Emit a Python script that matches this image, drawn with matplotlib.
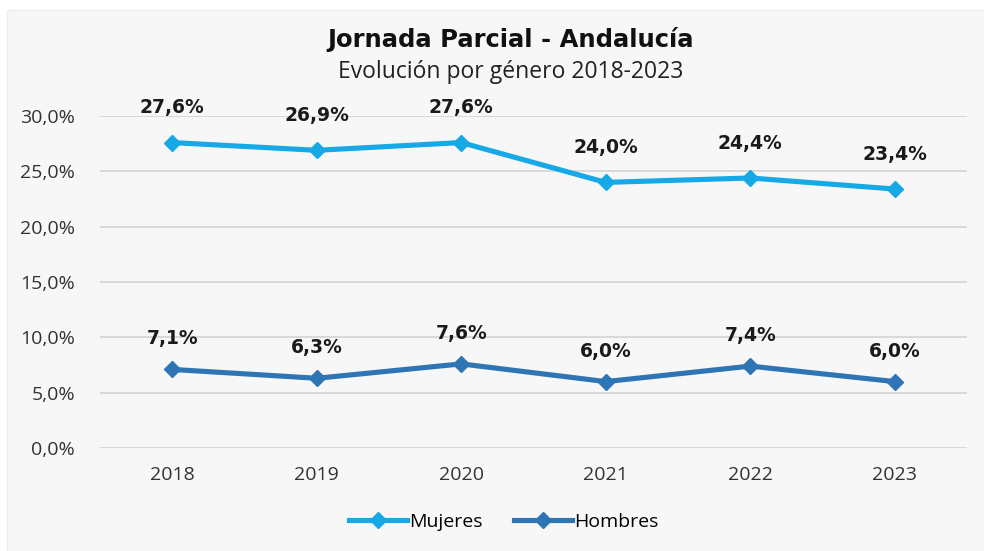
import matplotlib.pyplot as plt
from matplotlib.patches import Rectangle

plt.rcParams['font.family'] = ['Open Sans', 'DejaVu Sans']

years = ['2018', '2019', '2020', '2021', '2022', '2023']
mujeres = [27.6, 26.9, 27.6, 24.0, 24.4, 23.4]
hombres = [7.1, 6.3, 7.6, 6.0, 7.4, 6.0]
yticks = [0, 5, 10, 15, 20, 25, 30]

c_muj = '#17a8e6'
c_hom = '#2e75b6'
bg = '#f7f7f7'

fig = plt.figure(figsize=(9.84, 5.51), dpi=100)
fig.patch.set_facecolor('white')
fig.patches.append(Rectangle((7 / 984, 0), 1, 1 - 10 / 551, transform=fig.transFigure,
                             facecolor=bg, edgecolor='#eeeeee', zorder=-1))

ax = fig.add_axes([100 / 984, 1 - 448 / 551, 867 / 984, 332 / 551])
ax.set_facecolor(bg)
x = range(len(years))

ax.plot(x, mujeres, color=c_muj, lw=3.7, marker='D', ms=8, label='Mujeres', zorder=3)
ax.plot(x, hombres, color=c_hom, lw=3.7, marker='D', ms=8, label='Hombres', zorder=3)

for i in x:
    ax.annotate(f'{mujeres[i]:.1f}%'.replace('.', ','), (i, mujeres[i]), xytext=(0, 25),
                textcoords='offset points', ha='center', va='center', family='DejaVu Sans',
                fontsize=13.5, fontweight='bold', color='#1a1a1a')
    ax.annotate(f'{hombres[i]:.1f}%'.replace('.', ','), (i, hombres[i]), xytext=(0, 22),
                textcoords='offset points', ha='center', va='center', family='DejaVu Sans',
                fontsize=13.5, fontweight='bold', color='#1a1a1a')

ax.set_xlim(-0.5, len(years) - 0.5)
ax.set_ylim(0, 30)
ax.set_xticks(list(x))
ax.set_xticklabels(years)
ax.set_yticks(yticks)
ax.set_yticklabels([f'{v:.1f}%'.replace('.', ',') for v in yticks])
ax.tick_params(length=0, labelsize=14, colors='#333333')
ax.tick_params(axis='y', pad=18)
ax.tick_params(axis='x', pad=13)
ax.grid(axis='y', color='#d4d4d4', lw=1.2)
ax.set_axisbelow(True)
for s in ax.spines.values():
    s.set_visible(False)

fig.text(0.519, 1 - 40 / 551, 'Jornada Parcial - Andalucía', ha='center', va='center',
         family='DejaVu Sans', fontsize=17.5, fontweight='bold', color='#111111')
fig.text(0.519, 1 - 72 / 551, 'Evolución por género 2018-2023', ha='center', va='center',
         fontsize=16.5, color='#222222')

fig.legend(loc='center', bbox_to_anchor=(0.512, 1 - 522 / 551), ncol=2, frameon=False,
           fontsize=14, handlelength=3.0, handletextpad=0.1, columnspacing=1.6)

fig.savefig('out.png', dpi=100, facecolor=fig.get_facecolor())
